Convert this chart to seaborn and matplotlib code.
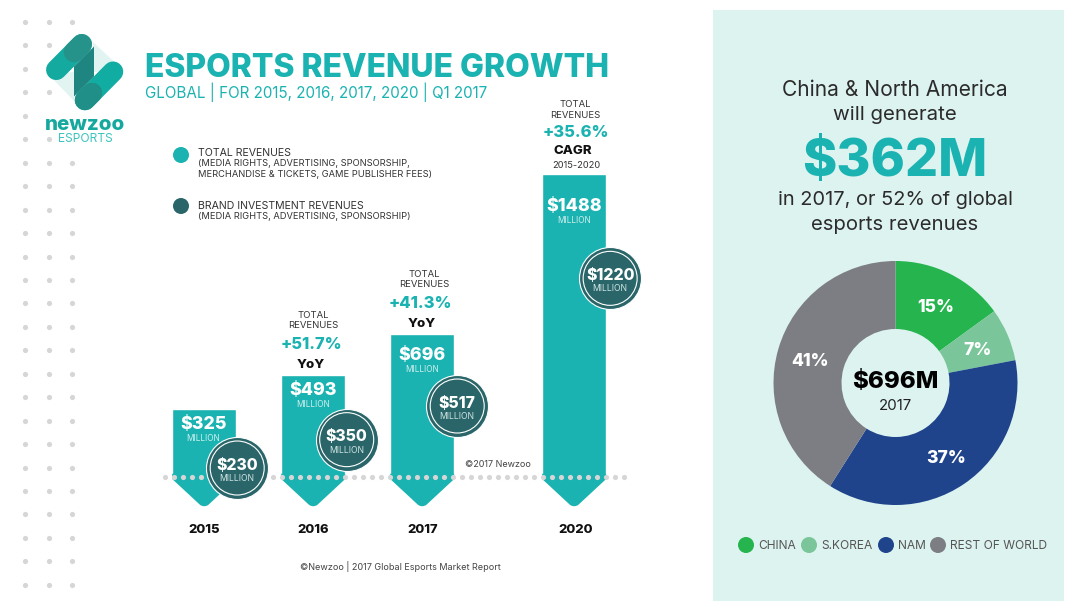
import matplotlib
matplotlib.use("Agg")
import matplotlib.pyplot as plt
import numpy as np
import seaborn as sns
from matplotlib.patches import Circle, PathPatch, Polygon, Rectangle
from matplotlib.path import Path
from matplotlib.transforms import Affine2D

years = ["2015", "2016", "2017", "2020"]
total_revenue = [325, 493, 696, 1488]
brand_revenue = [230, 350, 517, 1220]
growth_labels = ["+51.7%", "+41.3%", "+35.6%"]
growth_kinds = ["YoY", "YoY", "CAGR"]

regions = ["CHINA", "S.KOREA", "NAM", "REST OF WORLD"]
region_share = [15, 7, 37, 41]

#### STYLE ####
sns.set_theme(style="white")
BODY = ["Inter", "DejaVu Sans"]
HEAVY = ["Inter", "DejaVu Sans"]
plt.rcParams["font.family"] = BODY

TEAL = "#1BB3B1"
DARK = "#2A6669"
PALE = "#DDF3F0"
DOT = "#D6D6D6"
INK = "#2B2B2B"
region_colors = ["#25B44D", "#7AC69A", "#1F448C", "#7D7E83"]

W, H = 1091, 612
BASE_Y = 477
ZERO_Y = 474.7
PX_PER_M = 0.2021
SLOT_PX = 109
FIRST_BAR_X = 204.2
bar_slots = [0, 1, 2, 3.394]

fig = plt.figure(figsize=(W / 100, H / 100), dpi=100, facecolor="white")
ax = fig.add_axes([0, 0, 1, 1])
px = Affine2D().scale(1, -1).translate(0, H)  # image pixels, y down


def label(x, y, s, size, color=INK, weight="normal", ha="center", family=None, zorder=10):
    # va=center sits a little high for caps, so nudge by font size
    ax.text(x, y + 0.1 * size, s, fontsize=size * 0.72, color=color, weight=weight, ha=ha, va="center",
            family=family or BODY, transform=px, zorder=zorder)


def bar_x(slot):
    return FIRST_BAR_X + slot * SLOT_PX


def bar_top(value):
    return ZERO_Y - value * PX_PER_M


#### BARS ####
sns.barplot(x=bar_slots, y=total_revenue, native_scale=True, width=64 / SLOT_PX,
            color=TEAL, saturation=1, ax=ax, zorder=2)
ax.axis("off")

# arrow tips under the baseline
for slot in bar_slots:
    c = bar_x(slot)
    verts = [(c - 32, ZERO_Y - 1), (c + 32, ZERO_Y - 1), (c + 32, BASE_Y + 2), (c + 4, BASE_Y + 28),
             (c, BASE_Y + 30.5), (c - 4, BASE_Y + 28), (c - 32, BASE_Y + 2), (c - 32, ZERO_Y - 1)]
    codes = [Path.MOVETO, Path.LINETO, Path.LINETO, Path.LINETO,
             Path.CURVE3, Path.CURVE3, Path.LINETO, Path.CLOSEPOLY]
    ax.add_patch(PathPatch(Path(verts, codes), fc=TEAL, ec="none", transform=px, zorder=2))

# baseline dots
line_x = np.arange(165, 625, 9)
ax.scatter(line_x, [BASE_Y] * len(line_x), s=14, c=DOT, linewidths=0, transform=px, zorder=3)

#### BRAND CIRCLES ####
circle_dx = [33, 33.5, 35, 36]
circle_dy = [39.8, 35.7, 35.8, 50.2]
circle_x = [s + dx / SLOT_PX for s, dx in zip(bar_slots, circle_dx)]
circle_y = [v - dy / PX_PER_M for v, dy in zip(brand_revenue, circle_dy)]
sns.scatterplot(x=circle_x, y=circle_y, s=(2 * 31 * 0.72) ** 2, color=DARK, edgecolor="white",
                linewidth=0.8, ax=ax, zorder=4, legend=False)
ax.scatter(circle_x, circle_y, s=(2 * 27 * 0.72) ** 2, facecolors="none", edgecolors="white",
           linewidths=0.8, zorder=5)

#### BAR TEXT ####
top_pad = [14, 14, 20, 31]
for i, (slot, v, b) in enumerate(zip(bar_slots, total_revenue, brand_revenue)):
    c = bar_x(slot)
    y = bar_top(v) + top_pad[i]
    label(c - 1 if i == 0 else c, y, f"${v}", 17.8, "white", 800, family=HEAVY)
    label(c - 1 if i == 0 else c, y + 15, "MILLION", 8.2, "#CFEFEE")
    cx = c + circle_dx[i]
    cy = bar_top(b) + circle_dy[i]
    label(cx, cy - 4.5, f"${b}", 15.8, "white", 800, family=HEAVY)
    label(cx, cy + 9.5, "MILLION", 8.6, "#CFE3E3")
    label(c + (1 if i == 3 else 0), 529, years[i], 13, "#111111", 800, family=HEAVY)

# growth notes above the bars
note_x = [313, 424, 575]
note_y = [314.5, 273.5, 104]
growth_x = [311, 420.5, 576]
kind_x = [311, 422, 573]
for i in range(3):
    x, y = note_x[i], note_y[i]
    label(x, y, "TOTAL", 9.5, "#333333")
    label(x, y + 10.5, "REVENUES", 9.5, "#333333")
    label(growth_x[i], y + (28.5 if i < 2 else 27), growth_labels[i], 16.5, TEAL, 800, family=HEAVY)
    label(kind_x[i], y + (49.5 if i < 2 else 46), growth_kinds[i], 13.2, "#111111", 800, family=HEAVY)
label(576, 165, "2015-2020", 9.3, "#333333")
label(498, 464, "©2017 Newzoo", 9, "#444444")
label(400, 566, "©Newzoo | 2017 Global Esports Market Report", 9.1, "#444444")

#### HEADER ####
label(145, 65, "ESPORTS REVENUE GROWTH", 32, TEAL, 800, ha="left", family=HEAVY)
label(145, 91, "GLOBAL | FOR 2015, 2016, 2017, 2020 | Q1 2017", 15.2, TEAL, ha="left")

# legend
ax.add_patch(Circle((181, 155), 8, fc=TEAL, ec="none", transform=px))
ax.add_patch(Circle((181, 206), 8, fc=DARK, ec="none", transform=px))
label(198, 152, "TOTAL REVENUES", 10.6, "#333333", ha="left")
label(198, 163, "(MEDIA RIGHTS, ADVERTISING, SPONSORSHIP,", 9.3, "#333333", ha="left")
label(198, 174, "MERCHANDISE & TICKETS, GAME PUBLISHER FEES)", 9.3, "#333333", ha="left")
label(198, 205, "BRAND INVESTMENT REVENUES", 10.6, "#333333", ha="left")
label(198, 216, "(MEDIA RIGHTS, ADVERTISING, SPONSORSHIP)", 9.3, "#333333", ha="left")

# side dot grid, the logo covers some of it
grid_x = [25, 48.7, 72]
skip = {(1, 2), (2, 1), (2, 2), (3, 2), (4, 1), (4, 2), (5, 2)}
pts = [(x, 22 + r * 23.45) for r in range(25) for c, x in enumerate(grid_x) if (r, c) not in skip]
ax.scatter(*zip(*pts), s=14, c=DOT, linewidths=0, transform=px, zorder=1)

#### LOGO ####
ax.add_patch(Polygon([(93, 42), (123, 70), (94, 72)], fc="#E2F4F2", ec="none", transform=px, zorder=1))
ax.add_patch(Polygon([(48, 74), (74, 101), (74, 72)], fc="#E2F4F2", ec="none", transform=px, zorder=1))
pill = {"lw": 20.5 * 0.72, "solid_capstyle": "round", "transform": px, "zorder": 2}
ax.plot([56.3, 81.7], [69.8, 44.3], color="#14AA9F", **pill)
ax.plot([113, 85], [71.7, 100], color="#12ADA2", **pill)
ax.plot([74, 81.7], [52, 44.3], color="#26938A", **pill)
ax.plot([85, 92], [100, 93], color="#1F8F87", **pill)
ax.add_patch(Polygon([(74, 66.5), (94, 46.5), (94, 76.5), (74, 96.5)], fc="#1F8580", ec="none",
                     transform=px, zorder=3))
label(85, 123, "newzoo", 20.5, "#14A89E", 800, family=HEAVY)
label(85, 138, "ESPORTS", 12, "#3CC4BF")

#### RIGHT PANEL ####
ax.add_patch(Rectangle((712.5, 10), 351.5, 591, fc=PALE, ec="none", transform=px, zorder=0))
label(895, 88, "China & North America", 21)
label(895, 113, "will generate", 20.5)
label(895, 157, "$362M", 52, TEAL, 800, family=HEAVY)
label(895, 198, "in 2017, or 52% of global", 20)
label(895, 223, "esports revenues", 20.3)

ax.set_xlim(-FIRST_BAR_X / SLOT_PX, (W - FIRST_BAR_X) / SLOT_PX)
ax.set_ylim((ZERO_Y - H) / PX_PER_M, ZERO_Y / PX_PER_M)

pie_ax = fig.add_axes([(895.5 - 122) / W, (H - 383 - 122) / H, 244 / W, 244 / H])
pie_ax.pie(region_share, colors=region_colors, startangle=90, counterclock=False,
           radius=1, wedgeprops={"width": 68 / 122, "linewidth": 0})
pie_ax.set_xlim(-1, 1)
pie_ax.set_ylim(-1, 1)
pie_ax.patch.set_alpha(0)


def pie_label(x, y, s, size, color, weight=800, family=HEAVY):
    fig.text(x / W, 1 - (y + 0.1 * size) / H, s, fontsize=size * 0.72, color=color, weight=weight,
             ha="center", va="center", family=family, zorder=20)


share_pos = [(936, 306), (977, 349), (946, 457), (810, 360)]
for (x, y), share in zip(share_pos, region_share):
    pie_label(x, y, f"{share}%", 17.5, "white")
pie_label(895, 380, "$696M", 24, "black")
pie_label(895, 405, "2017", 15, "#222222", "normal", BODY)

legend_dot_x = [746, 809, 886, 938]
for x, name, col in zip(legend_dot_x, regions, region_colors):
    ax.add_patch(Circle((x, 545), 8, fc=col, ec="none", transform=px, zorder=2))
    label(x + 12, 545, name, 12, "#555555", ha="left")

fig.savefig("out.png", dpi=100, facecolor="white")
